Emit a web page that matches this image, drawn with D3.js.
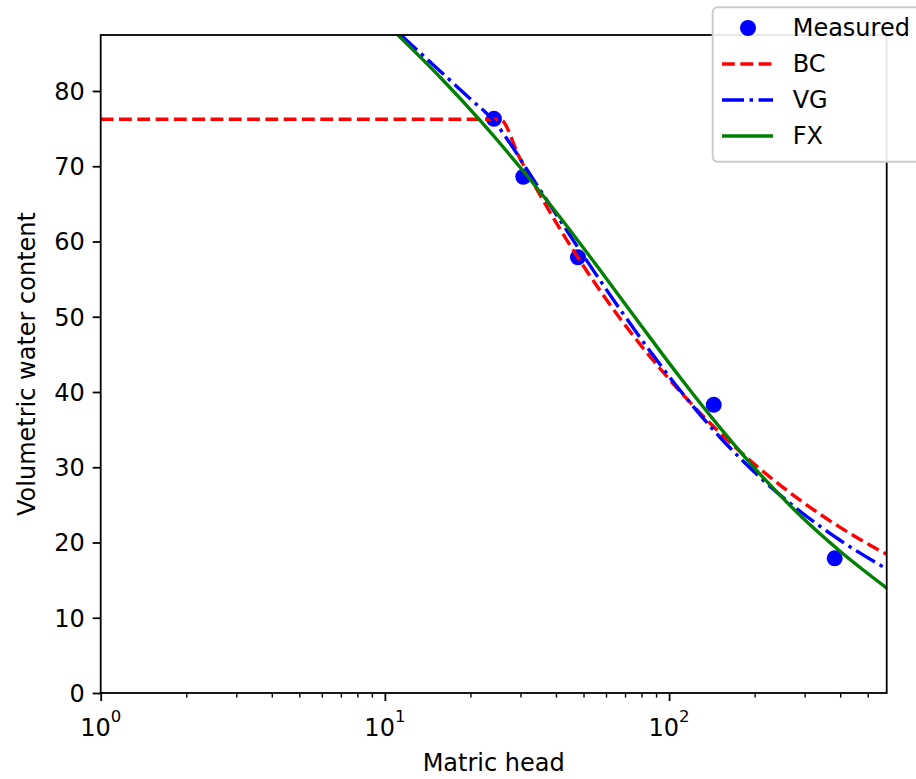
<!DOCTYPE html>
<meta charset="utf-8" />
<style type="text/css">
    body {
        margin: 0;
        background: #fff;
    }

    text {
        font-family: "DejaVu Sans", sans-serif;
        font-size: 24px;
        fill: #000;
    }

    .tick line {
        stroke: #000;
        stroke-width: 1.8;
    }
</style>

<body>
    <div id="chart"></div>
</body>
<script src="https://d3js.org/d3.v7.min.js"></script>
<script>
    // measured points (matric head, volumetric water content)
    let measuredHead = [24.2, 30.7, 47.8, 143.6, 382.6];
    let measuredTheta = [76.3, 68.6, 57.9, 38.3, 17.9];

    // fitted curves
    let bcHead = [1, 25.4, 29.85, 35.1, 41.27, 48.53, 57.06, 78.86, 109.05, 150.8, 208.4, 288.2, 398.6, 583.2];
    let bcTheta = [76.24, 76.24, 71.06, 66.22, 61.70, 57.48, 53.51, 46.39, 40.12, 34.59, 29.81, 25.66, 22.05, 18.42];

    let vgHead = [11.38, 15.62, 19.91, 24.17, 27.53, 32.36, 41.27, 57.06, 78.86, 109.05, 150.8, 208.4, 288.2, 398.6, 583.2];
    let vgTheta = [87.44, 82.66, 79.00, 76.01, 73.09, 68.97, 62.86, 54.88, 47.31, 40.27, 34.02, 28.70, 24.19, 20.33, 16.48];

    let fxHead = [11.11, 15.62, 21.59, 29.85, 41.27, 57.06, 78.86, 109.05, 150.8, 208.4, 288.2, 398.6, 583.2];
    let fxTheta = [87.44, 81.86, 76.12, 69.90, 63.26, 56.24, 49.06, 41.99, 35.30, 29.13, 23.65, 18.87, 13.95];

    let xMajor = [1, 10, 100];
    let xMajorExp = ["0", "1", "2"];
    let xMinor = [2, 3, 4, 5, 6, 7, 8, 9, 20, 30, 40, 50, 60, 70, 80, 90, 200, 300, 400, 500];
    let yTicks = [0, 10, 20, 30, 40, 50, 60, 70, 80];

    let series = [
        { name: "BC", head: bcHead, theta: bcTheta, color: "red", dash: "12.8,5.5" },
        { name: "VG", head: vgHead, theta: vgTheta, color: "blue", dash: "22,5.5,3.5,5.5" },
        { name: "FX", head: fxHead, theta: fxTheta, color: "green", dash: null }
    ];

    let width = 916,
        height = 779;
    let plot = { left: 100.7, right: 886.7, top: 35, bottom: 693 };

    let xScale = d3.scaleLog()
        .domain([1, 583.2])
        .range([plot.left, plot.right]);

    let yScale = d3.scaleLinear()
        .domain([0, 87.44])
        .range([plot.bottom, plot.top]);

    let svg = d3.select("#chart").append("svg")
        .attr("width", width)
        .attr("height", height);

    svg.append("defs").append("clipPath")
        .attr("id", "clip")
        .append("rect")
        .attr("x", plot.left)
        .attr("y", plot.top)
        .attr("width", plot.right - plot.left)
        .attr("height", plot.bottom - plot.top);

    // axes
    let xAxis = svg.append("g")
        .attr("transform", "translate(0," + plot.bottom + ")")
        .call(d3.axisBottom(xScale).tickValues(xMajor).tickSize(8).tickSizeOuter(0).tickFormat(""));
    xAxis.select(".domain").remove();

    let xMinorAxis = svg.append("g")
        .attr("transform", "translate(0," + plot.bottom + ")")
        .call(d3.axisBottom(xScale).tickValues(xMinor).tickSize(4.6).tickSizeOuter(0).tickFormat(""));
    xMinorAxis.select(".domain").remove();
    xMinorAxis.selectAll(".tick line").style("stroke-width", 1.4);

    let yAxis = svg.append("g")
        .attr("transform", "translate(" + plot.left + ",0)")
        .call(d3.axisLeft(yScale).tickValues(yTicks).tickSize(8).tickSizeOuter(0).tickPadding(8).tickFormat(d3.format("d")));
    yAxis.select(".domain").remove();
    yAxis.selectAll(".tick text")
        .attr("font-size", null)
        .attr("font-family", null)
        .attr("dy", "0.35em");

    // x tick labels as 10^n
    let xLabels = svg.append("g");
    xMajor.forEach(function(v, i) {
        let t = xLabels.append("text")
            .attr("x", xScale(v))
            .attr("y", 736)
            .style("text-anchor", "middle");
        t.append("tspan").text("10");
        t.append("tspan")
            .attr("dy", -14)
            .style("font-size", "16.5px")
            .text(xMajorExp[i]);
    });

    // data
    let g = svg.append("g").attr("clip-path", "url(#clip)");

    g.selectAll(".dot")
        .data(measuredHead)
        .enter().append("circle")
        .attr("class", "dot")
        .attr("cx", function(d) {
            return xScale(d);
        })
        .attr("cy", function(d, i) {
            return yScale(measuredTheta[i]);
        })
        .attr("r", 8)
        .style("fill", "blue");

    let line = d3.line()
        .x(function(d) {
            return xScale(d[0]);
        })
        .y(function(d) {
            return yScale(d[1]);
        })
        .curve(d3.curveMonotoneX);

    series.forEach(function(s) {
        g.append("path")
            .datum(d3.zip(s.head, s.theta))
            .attr("d", line)
            .style("fill", "none")
            .style("stroke", s.color)
            .style("stroke-width", 3.4)
            .style("stroke-dasharray", s.dash);
    });

    // frame
    svg.append("rect")
        .attr("x", plot.left)
        .attr("y", plot.top)
        .attr("width", plot.right - plot.left)
        .attr("height", plot.bottom - plot.top)
        .style("fill", "none")
        .style("stroke", "#000")
        .style("stroke-width", 1.8);

    // axis titles
    svg.append("text")
        .attr("x", (plot.left + plot.right) / 2)
        .attr("y", 771)
        .style("text-anchor", "middle")
        .text("Matric head");

    svg.append("text")
        .attr("transform", "translate(35," + (plot.top + plot.bottom) / 2 + ") rotate(-90)")
        .style("text-anchor", "middle")
        .text("Volumetric water content");

    // legend
    let legend = svg.append("g");
    legend.append("rect")
        .attr("x", 712.7)
        .attr("y", 7.3)
        .attr("width", 240)
        .attr("height", 154.4)
        .attr("rx", 5)
        .style("fill", "#fff")
        .style("fill-opacity", 0.9)
        .style("stroke", "#cccccc")
        .style("stroke-width", 2);

    let rowY = function(i) {
        return 28 + i * 36;
    };

    legend.append("circle")
        .attr("cx", 748)
        .attr("cy", rowY(0))
        .attr("r", 8)
        .style("fill", "blue");
    legend.append("text")
        .attr("x", 792.7)
        .attr("y", rowY(0))
        .attr("dy", "0.35em")
        .text("Measured");

    series.forEach(function(s, i) {
        legend.append("line")
            .attr("x1", 722)
            .attr("x2", 773)
            .attr("y1", rowY(i + 1))
            .attr("y2", rowY(i + 1))
            .style("stroke", s.color)
            .style("stroke-width", 3.4)
            .style("stroke-dasharray", s.dash);
        legend.append("text")
            .attr("x", 792.7)
            .attr("y", rowY(i + 1))
            .attr("dy", "0.35em")
            .text(s.name);
    });
</script>
